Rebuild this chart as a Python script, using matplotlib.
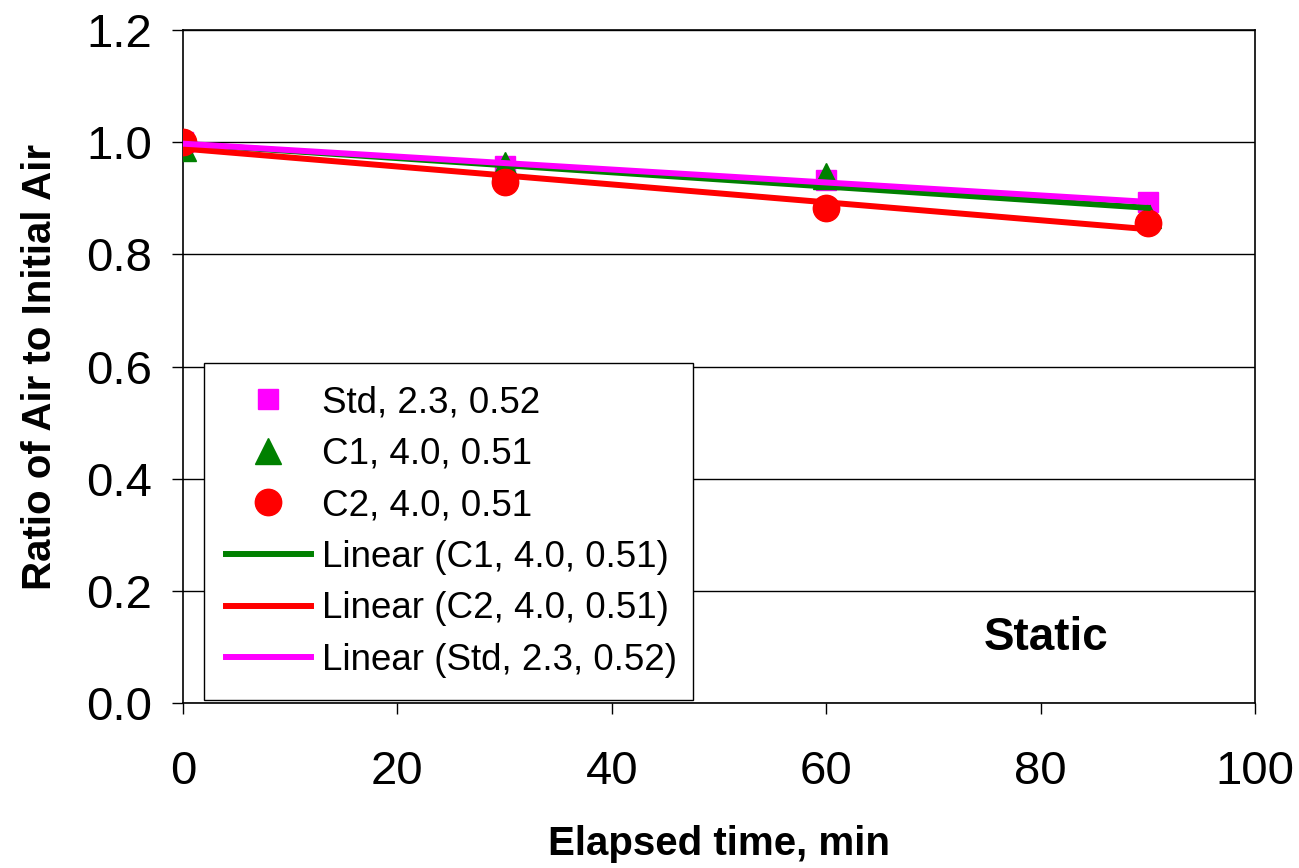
import matplotlib.pyplot as plt
import numpy as np

plt.rcParams['font.family'] = ['Liberation Sans', 'DejaVu Sans']

# elapsed time (min) and ratio of air to initial air
time_min = [0, 30, 60, 90]
std_vals = [1.0, 0.957, 0.932, 0.893]
c1_vals = [0.99, 0.960, 0.940, 0.870]
c2_vals = [1.0, 0.929, 0.882, 0.856]

fig = plt.figure(figsize=(12.99, 8.68), dpi=100)
ax = fig.add_axes([0.1409, 0.19, 0.8252, 0.7754])

t = np.array(time_min)
ax.plot(t, std_vals, 's', color='#ff00ff', ms=15, label='Std, 2.3, 0.52', zorder=3)
ax.plot(t, c1_vals, '^', color='#008000', ms=19, label='C1, 4.0, 0.51', zorder=3)
ax.plot(t, c2_vals, 'o', color='#ff0000', ms=19, label='C2, 4.0, 0.51', zorder=3)

# linear trendlines fitted on the data
for vals, col, name in [(c1_vals, '#008000', 'Linear (C1, 4.0, 0.51)'),
                        (c2_vals, '#ff0000', 'Linear (C2, 4.0, 0.51)'),
                        (std_vals, '#ff00ff', 'Linear (Std, 2.3, 0.52)')]:
    k, b = np.polyfit(t, vals, 1)
    xx = np.array([0, 90])
    ax.plot(xx, k * xx + b, '-', color=col, lw=4.3, label=name, zorder=4)

ax.set_xlim(0, 100)
ax.set_ylim(0, 1.2)
ax.set_xticks(np.arange(0, 101, 20))
ax.set_yticks(np.arange(0, 1.21, 0.2))
ax.set_yticklabels(['%.1f' % v for v in np.arange(0, 1.21, 0.2)])
ax.tick_params(axis='both', labelsize=34, direction='out', length=8, width=1)
ax.tick_params(axis='x', pad=26)
ax.tick_params(axis='y', pad=14)
ax.yaxis.grid(True, color='black', lw=1)
ax.set_axisbelow(True)
for s in ax.spines.values():
    s.set_linewidth(1.2)

ax.set_xlabel('Elapsed time, min', fontsize=29, fontweight='bold', labelpad=22)
ax.set_ylabel('Ratio of Air to Initial Air', fontsize=29, fontweight='bold', labelpad=20)

ax.text(0.805, 0.097, 'Static', transform=ax.transAxes, fontsize=33,
        fontweight='bold', ha='center', va='center')

leg = ax.legend(loc='lower left', bbox_to_anchor=(0.0196, 0.0045, 0.456, 0.493),
                mode='expand', borderaxespad=0, fontsize=26.5, frameon=True,
                fancybox=False, edgecolor='black', framealpha=1,
                handlelength=2.3, labelspacing=0.45, borderpad=0.6,
                handletextpad=0.3)
leg.get_frame().set_linewidth(1)

fig.savefig('out.png', dpi=100)
